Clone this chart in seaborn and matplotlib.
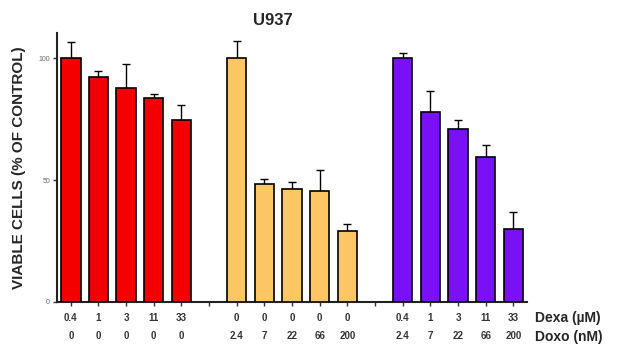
import matplotlib
matplotlib.use('Agg')
import matplotlib.pyplot as plt
import seaborn as sns
import numpy as np
import pandas as pd

# 数据
groups = ['Dexa', 'Doxo', 'Dexa+Doxo']
dexa_labels = ['0.4', '1', '3', '11', '33']
doxo_labels = ['2.4', '7', '22', '66', '200']

dexa_mean = [100, 92.3, 87.9, 83.7, 74.7]
dexa_top = [106.8, 94.8, 97.5, 85.5, 80.7]
doxo_mean = [100, 48.2, 46.3, 45.6, 29.2]
doxo_top = [107, 50.4, 49.0, 54.2, 31.9]
combo_mean = [100, 77.9, 70.8, 59.6, 30.0]
combo_top = [102, 86.7, 74.7, 64.2, 37.0]

colors = ['#f40000', '#fcc665', '#7a10f5']

sns.set_theme(style='ticks')
plt.rcParams['font.family'] = ['Liberation Sans', 'DejaVu Sans']

# 17 个位置: 5 柱 + 空 + 5 柱 + 空 + 5 柱
slots, rows = [], []
means = [dexa_mean, doxo_mean, combo_mean]
tops = [dexa_top, doxo_top, combo_top]
row1 = [dexa_labels, ['0'] * 5, dexa_labels]
row2 = [['0'] * 5, doxo_labels, doxo_labels]
ticklabels = []
for g in range(3):
    for i in range(5):
        key = f'{g}_{i}'
        slots.append(key)
        rows.append({'slot': key, 'group': groups[g],
                     'value': means[g][i], 'top': tops[g][i]})
        ticklabels.append(f'{row1[g][i]}\n{row2[g][i]}')
    if g < 2:
        slots.append(f'gap{g}')
        ticklabels.append('')
df = pd.DataFrame(rows)

fig = plt.figure(figsize=(6.17, 3.49), dpi=100)
ax = fig.add_axes([0.0924, 0.1355, 0.762, 0.77])

sns.barplot(data=df, x='slot', y='value', hue='group', order=slots,
            hue_order=groups, palette=colors, saturation=1, dodge=False,
            width=0.7, edgecolor='black', linewidth=1.2, errorbar=None,
            legend=False, ax=ax, zorder=3)

# 误差线 (只显示上半部分, 下半被柱子遮住)
xpos = [slots.index(k) for k in df['slot']]
err = df['top'] - df['value']
ax.errorbar(xpos, df['value'], yerr=err, fmt='none', ecolor='black',
            elinewidth=1.0, capsize=3, capthick=1.0, zorder=2)

ax.set_xlim(-0.5, 16.5)
ax.set_ylim(0, 110.4)
ax.set_yticks([0, 50, 100])
ax.set_yticklabels(['0', '50', '100'], fontsize=5, color='#666666')
ax.set_xticks(range(len(slots)))
ax.set_xticklabels(ticklabels, fontsize=7, fontweight='bold',
                   color='#333333', linespacing=2.0)
ax.tick_params(axis='both', length=3, width=1, color='#333333', pad=2)
ax.tick_params(axis='x', pad=5)
for s in ['left', 'bottom']:
    ax.spines[s].set_linewidth(1.5)
    ax.spines[s].set_color('#222222')
sns.despine(ax=ax)

ax.set_xlabel('')
ax.set_ylabel('VIABLE CELLS (% OF CONTROL)', fontsize=11, fontweight='bold',
              labelpad=9)
ax.set_title('U937', fontsize=12, fontweight='bold', x=0.46, pad=6)

fig.text(0.867, 0.088, 'Dexa (µM)', fontsize=10, fontweight='bold', va='center')
fig.text(0.867, 0.034, 'Doxo (nM)', fontsize=10, fontweight='bold', va='center')

plt.savefig('out.png', dpi=100)
plt.close()
